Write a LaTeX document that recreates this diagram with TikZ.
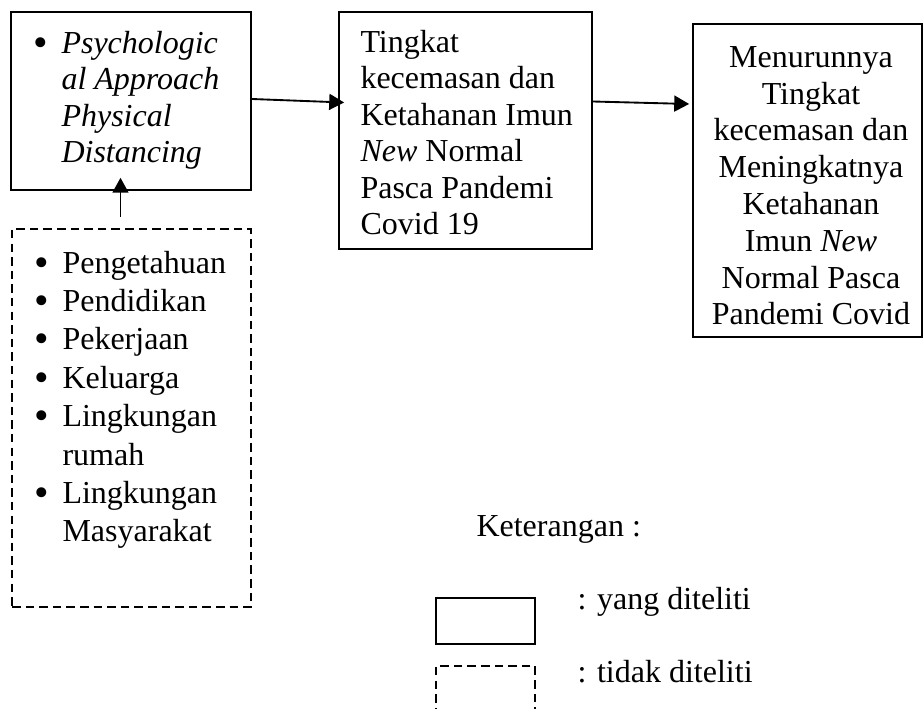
\documentclass[tikz,border=0pt]{standalone}
\usepackage{fontspec}
\setmainfont{Liberation Serif}
\usetikzlibrary{arrows.meta}
\usetikzlibrary{calc}

\begin{document}
\begin{tikzpicture}[x=0.375pt, y=-0.375pt,
        kotak/.style={draw, line width=0.6pt, inner sep=0pt},
        kotakputus/.style={draw, line width=0.65pt, dash pattern=on 3.2pt off 1.9pt, inner sep=0pt},
        isi/.style={inner sep=0pt, font=\fontsize{12}{13.7}\selectfont},
        panah/.style={-{Triangle[length=5.6pt,width=6pt]}, line width=0.7pt}]
        \newcommand{\butir}{\makebox[10.5pt][l]{\raisebox{-1.1pt}{\scalebox{1.3}{\textbullet}}}}
        \newcommand{\jorok}{\hspace*{10.5pt}}
        \useasboundingbox (0,0) rectangle (924,709);
        % kotak utama
        \node[kotak, minimum width=90pt, minimum height=66.75pt] (psikologis) at (131,101) {};
        \node[kotakputus, minimum width=89.6pt, minimum height=141.75pt] (faktor) at (131.5,418) {};
        \node[kotak, minimum width=94.9pt, minimum height=88.9pt] (ketahanan) at (465.5,130.5) {};
        \node[kotak, minimum width=85.9pt, minimum height=117.4pt] (menurun) at (807.5,180.5) {};
        % isi kotak (base = baris terakhir)
        \node[isi, anchor=base west, align=left] (psikologisTeks) at (33,163)
            {\butir\textit{Psychologic}\\\jorok\textit{al Approach}\\\jorok\textit{Physical}\\\jorok\textit{Distancing}};
        \node[isi, font=\fontsize{12}{14.4}\selectfont, anchor=base west, align=left] (faktorTeks) at (34,542)
            {\butir Pengetahuan\\\butir Pendidikan\\\butir Pekerjaan\\\butir Keluarga\\\butir Lingkungan\\\jorok rumah\\\butir Lingkungan\\\jorok Masyarakat};
        \node[isi, anchor=base west, align=left] (ketahananTeks) at (360,235)
            {Tingkat\\kecemasan dan\\Ketahanan Imun\\\textit{New} Normal\\Pasca Pandemi\\Covid 19};
        \node[isi, font=\fontsize{12}{13.8}\selectfont, anchor=base, align=center] (menurunTeks) at (811,325)
            {Menurunnya\\Tingkat\\kecemasan dan\\Meningkatnya\\Ketahanan\\Imun \textit{New}\\Normal Pasca\\Pandemi Covid};
        % panah
        \draw[panah] ($(psikologis.east)+(0,-2)$) -- ($(ketahanan.west)+(6,-28)$);
        \draw[panah] ($(ketahanan.east)+(0,-29)$) -- ($(menurun.west)+(-3,-76.5)$);
        \draw[panah] ($(faktor.north)+(-11,-11)$) -- ($(psikologis.south)+(-10.5,-13)$);
        % keterangan
        \node[isi, anchor=base west] (keterangan) at (476,537) {Keterangan :};
        \node[kotak, minimum width=37.1pt, minimum height=17.25pt] (legendaDiteliti) at (485.5,621) {};
        \node[isi, anchor=base west] (teksDiteliti) at (577,610) {: yang diteliti};
        \node[kotakputus, minimum width=37.1pt, minimum height=17.25pt] (legendaTidak) at (485.5,689) {};
        \node[isi, anchor=base west] (teksTidak) at (577,683) {: tidak diteliti};
\end{tikzpicture}
\end{document}
